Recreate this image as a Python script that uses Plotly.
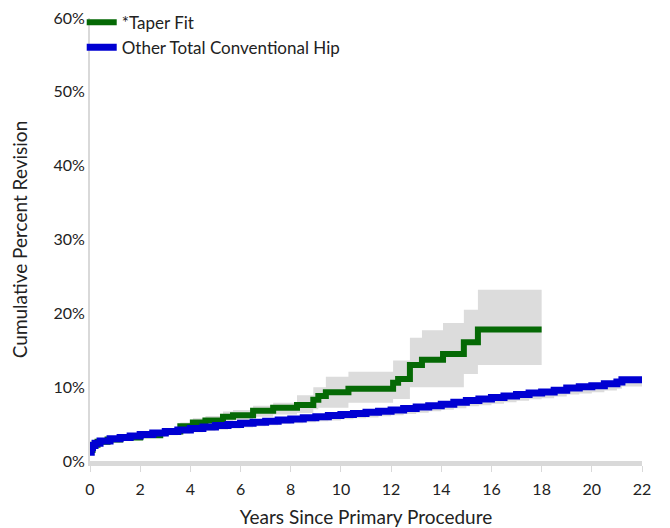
import plotly.graph_objects as go

# *Taper Fit - cumulative percent revision (step starts, value held until next year)
taper_years = [0.0, 0.1, 0.3, 0.7, 1.2, 2.0, 2.8, 3.0, 3.6, 4.1, 4.6, 5.3, 5.7, 6.5,
               7.3, 8.25, 8.9, 9.1, 9.4, 10.3, 12.08, 12.28, 12.75, 13.23, 14.07,
               14.9, 15.46, 18.0]
taper_pct = [1.5, 2.2, 2.6, 2.9, 3.2, 3.5, 3.8, 4.0, 4.7, 5.2, 5.5, 6.0, 6.2, 6.8,
             7.2, 7.6, 8.3, 8.8, 9.3, 9.8, 10.6, 11.1, 13.0, 13.7, 14.5, 16.1, 17.8, 17.8]
taper_upper = [1.9, 2.6, 3.0, 3.3, 3.6, 3.9, 4.2, 4.4, 5.2, 5.8, 6.1, 6.7, 6.9, 7.5,
               7.9, 8.9, 10.0, 10.0, 11.4, 12.1, 13.6, 13.6, 16.7, 17.7, 18.7, 20.5,
               23.2, 23.2]
taper_lower = [1.1, 1.8, 2.2, 2.5, 2.8, 3.1, 3.4, 3.6, 4.2, 4.6, 4.9, 5.3, 5.5, 6.0,
               6.3, 6.5, 7.0, 7.2, 7.2, 7.9, 8.4, 8.4, 10.0, 10.0, 10.0, 11.8, 13.0, 13.0]

# Other Total Conventional Hip
other_years = [0.0, 0.05, 0.1, 0.2, 0.4, 0.8, 1.2, 1.6, 2.0, 2.5, 3.0, 3.5, 4.0, 4.5,
               5.0, 5.5, 6.0, 6.5, 7.0, 7.5, 8.0, 8.5, 9.0, 9.5, 10.0, 10.5, 11.0,
               11.5, 12.0, 12.5, 13.0, 13.5, 14.0, 14.5, 15.0, 15.5, 16.0, 16.5,
               17.0, 17.5, 18.0, 18.5, 19.0, 19.5, 20.0, 20.5, 21.0, 21.2, 22.0]
other_pct = [1.2, 1.8, 2.1, 2.4, 2.7, 3.0, 3.2, 3.4, 3.6, 3.8, 4.0, 4.2, 4.4, 4.6,
             4.8, 4.95, 5.1, 5.25, 5.4, 5.55, 5.7, 5.85, 6.0, 6.15, 6.3, 6.45, 6.6,
             6.75, 6.9, 7.1, 7.3, 7.5, 7.7, 7.95, 8.2, 8.4, 8.6, 8.8, 9.0, 9.2, 9.35,
             9.6, 9.9, 10.05, 10.2, 10.45, 10.7, 11.0, 11.0]
other_upper = [1.4, 2.0, 2.3, 2.6, 2.9, 3.2, 3.4, 3.6, 3.8, 4.0, 4.2, 4.4, 4.6, 4.8,
               5.0, 5.15, 5.3, 5.45, 5.6, 5.75, 5.9, 6.05, 6.2, 6.35, 6.5, 6.65, 6.8,
               6.95, 7.1, 7.3, 7.5, 7.7, 7.9, 8.15, 8.4, 8.6, 8.8, 9.0, 9.2, 9.4, 9.55,
               9.8, 10.1, 10.25, 10.4, 10.65, 10.9, 11.2, 11.2]
other_lower = [0.8, 1.3, 1.6, 1.9, 2.2, 2.5, 2.7, 2.9, 3.1, 3.3, 3.5, 3.7, 3.9, 4.05,
               4.25, 4.4, 4.55, 4.7, 4.85, 5.0, 5.1, 5.25, 5.4, 5.5, 5.65, 5.8, 5.9,
               6.05, 6.2, 6.35, 6.55, 6.75, 6.95, 7.15, 7.4, 7.55, 7.75, 7.95, 8.15,
               8.35, 8.5, 8.75, 9.0, 9.15, 9.3, 9.55, 9.8, 10.1, 10.1]

x_ticks = list(range(0, 23, 2))
y_ticks = [0, 10, 20, 30, 40, 50, 60]
y_labels = ["0%", "10%", "20%", "30%", "40%", "50%", "60%"]

GREEN = "rgb(5,105,5)"
BLUE = "rgb(0,0,210)"
BAND = "rgb(220,220,220)"

fig = go.Figure()

# confidence bands
for yrs, lo, hi in [(taper_years, taper_lower, taper_upper),
                    (other_years, other_lower, other_upper)]:
    fig.add_trace(go.Scatter(x=yrs, y=lo, mode="lines", line=dict(width=0, shape="hv"),
                             showlegend=False, hoverinfo="skip"))
    fig.add_trace(go.Scatter(x=yrs, y=hi, mode="lines", line=dict(width=0, shape="hv"),
                             fill="tonexty", fillcolor=BAND,
                             showlegend=False, hoverinfo="skip"))

fig.add_trace(go.Scatter(x=taper_years, y=taper_pct, mode="lines", name="*Taper Fit",
                         line=dict(color=GREEN, width=6, shape="hv")))
fig.add_trace(go.Scatter(x=other_years, y=other_pct, mode="lines",
                         name="Other Total Conventional Hip",
                         line=dict(color=BLUE, width=7, shape="hv")))

# page body adds an 8px offset, margins compensate for it
fig.update_layout(
    width=670, height=528,
    margin=dict(l=82, r=36, t=10, b=75, autoexpand=False),
    paper_bgcolor="white", plot_bgcolor="white",
    font=dict(family="Lato", size=16, color="#222"),
    legend=dict(x=-0.015, y=1.03, xanchor="left", yanchor="top", traceorder="normal",
                bgcolor="rgba(0,0,0,0)", font=dict(size=17),
                tracegroupgap=0, itemwidth=30),
)
fig.update_xaxes(range=[0, 22], tickvals=x_ticks, showgrid=False, zeroline=False,
                 showline=True, linecolor="#d9d9d9", linewidth=5, automargin=False,
                 ticks="outside", ticklen=6, tickcolor="#d9d9d9", ticklabelstandoff=4,
                 title=dict(text="Years Since Primary Procedure", standoff=15))
fig.update_yaxes(range=[0, 60.01], tickvals=y_ticks, ticktext=y_labels,
                 ticklabeloverflow="allow", showgrid=False, zeroline=False,
                 showline=True, linecolor="#d9d9d9", linewidth=2, automargin=False,
                 title=dict(text="Cumulative Percent Revision", standoff=22))

fig.write_html("out.html")
